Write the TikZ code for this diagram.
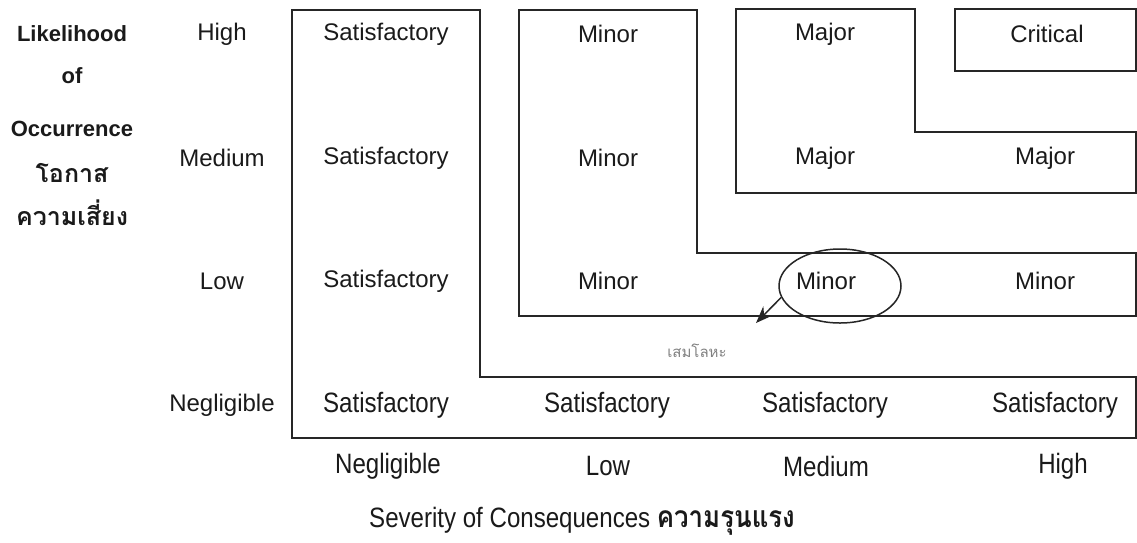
\documentclass[tikz,border=0pt]{standalone}
\usepackage{fontspec}
\setmainfont{Liberation Sans}
\newfontfamily\thaifont[Script=Thai]{Loma}
\usetikzlibrary{shapes.geometric,arrows.meta}
\definecolor{ink}{HTML}{1A1A1A}
\definecolor{rule}{HTML}{262626}
\definecolor{faint}{HTML}{808080}
\begin{document}
\begin{tikzpicture}[x=1pt,y=-1pt,
  zone/.style={draw=rule, line width=1.5pt, line join=miter},
  cell/.style={font=\fontsize{24}{28}\selectfont, text=ink, inner sep=0pt},
  narrowcell/.style={font=\fontsize{28}{32}\selectfont, text=ink, xscale=0.86, inner sep=0pt},
  axis/.style={font=\fontsize{22}{26}\selectfont\bfseries, text=ink, inner sep=0pt},
  thaiaxis/.style={font=\fontsize{25}{29}\selectfont\thaifont\bfseries, text=ink, inner sep=0pt},
  note/.style={font=\fontsize{15}{18}\selectfont\thaifont, text=faint, inner sep=0pt}]
\fill[white] (0,0) rectangle (1137,542);
\useasboundingbox (0,0) rectangle (1137,542);

% risk zones
\draw[zone] (292,10) -- (480,10) -- (480,377) -- (1136,377) -- (1136,438) -- (292,438) -- cycle;
\draw[zone] (519,10) -- (697,10) -- (697,253) -- (1136,253) -- (1136,316) -- (519,316) -- cycle;
\draw[zone] (736,9) -- (915,9) -- (915,132) -- (1136,132) -- (1136,193) -- (736,193) -- cycle;
\draw[zone] (955,9) -- (1136,9) -- (1136,71) -- (955,71) -- cycle;

% likelihood axis title
\node[axis] (lk1) at (72,34) {Likelihood};
\node[axis] (lk2) at (72,76) {of};
\node[axis] (lk3) at (72,129) {Occurrence};
\node[thaiaxis] (lk4) at (72,173) {โอกาส};
\node[thaiaxis] (lk5) at (72,213) {ความเสี่ยง};

% likelihood levels
\node[cell] (rH) at (222,34) {High};
\node[cell] (rM) at (222,158) {Medium};
\node[cell] (rL) at (222,281) {Low};
\node[cell] (rN) at (222,405) {Negligible};

% row High
\node[cell] (h1) at (386,34) {Satisfactory};
\node[cell] (h2) at (608,34) {Minor};
\node[cell] (h3) at (825,34) {Major};
\node[cell] (h4) at (1047,34) {Critical};

% row Medium
\node[cell] (m1) at (386,158) {Satisfactory};
\node[cell] (m2) at (608,158) {Minor};
\node[cell] (m3) at (825,158) {Major};
\node[cell] (m4) at (1045,158) {Major};

% row Low
\node[cell] (l1) at (386,281) {Satisfactory};
\node[cell] (l2) at (608,281) {Minor};
\node[cell] (l3) at (826,281) {Minor};
\node[cell] (l4) at (1045,281) {Minor};

% row Negligible
\node[narrowcell] (n1) at (386,405) {Satisfactory};
\node[narrowcell] (n2) at (607,405) {Satisfactory};
\node[narrowcell] (n3) at (825,405) {Satisfactory};
\node[narrowcell] (n4) at (1055,405) {Satisfactory};

% severity levels
\node[narrowcell] (cN) at (388,466) {Negligible};
\node[narrowcell] (cL) at (608,466) {Low};
\node[narrowcell] (cM) at (826,466) {Medium};
\node[narrowcell] (cH) at (1063,466) {High};

% severity axis title
\node[narrowcell] (sev) at (582,521) {Severity of Consequences {\fontsize{30}{34}\selectfont\thaifont\bfseries ความรุนแรง}};

% highlighted cell with pointer
\node[draw=rule, line width=1.5pt, ellipse, minimum width=122, minimum height=74, inner sep=0pt] (ell) at (840,286) {};
\coordinate (tip) at (756,323);
\draw[draw=rule, line width=1.5pt, -{Stealth[length=17pt,width=13pt]}] (ell.191) -- (tip);
\node[note] (lbl) at (697,351) {เสมโลหะ};
\end{tikzpicture}
\end{document}
